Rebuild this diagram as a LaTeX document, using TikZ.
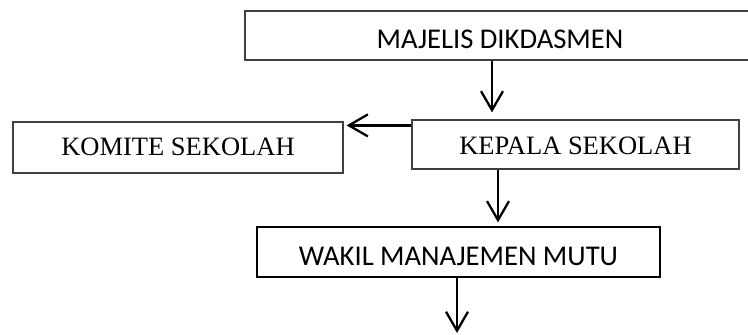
\documentclass[tikz,border=0pt]{standalone}
\usepackage{fontspec}
\setmainfont{Liberation Serif}
\newfontfamily\calib{Carlito}
\usetikzlibrary{arrows.meta,calc}
\begin{document}
\begin{tikzpicture}[x=1pt,y=-1pt,
  box/.style={draw=black!75,line width=1.2pt,inner sep=0pt,rectangle},
  sansbox/.style={box,font=\calib\fontsize{28.6}{32}\selectfont},
  serifbox/.style={box,font=\fontsize{26.5}{30}\selectfont},
  arr/.style={line width=2.3pt,-{Straight Barb[length=19pt,width=22pt,line width=2.3pt]}}]
\useasboundingbox (0,0) rectangle (748,335);
\node[sansbox,minimum width=510pt,text height=37pt,text depth=12pt] (maj) at (500,35.5) {MAJELIS DIKDASMEN};
\node[serifbox,minimum width=330pt,text height=33pt,text depth=18pt] (kom) at (178,147.5) {KOMITE SEKOLAH};
\node[serifbox,minimum width=327pt,text height=34pt,text depth=15pt] (kep) at (575.5,144.5) {KEPALA SEKOLAH};
\node[sansbox,draw=black,minimum width=403pt,text height=38pt,text depth=12pt] (wak) at (458.5,252) {WAKIL MANAJEMEN MUTU};
\coordinate (end) at (457,333);
\draw[arr,shorten >=7pt] (maj.south -| 492,0) -- (kep.north -| 492,0);
\draw[arr,shorten >=3pt] ([yshift=-6pt]kep.north west) -- ([yshift=-6pt]kep.north west -| kom.east);
\draw[arr,shorten >=4pt] (kep.south -| 498,0) -- (wak.north -| 498,0);
\draw[arr] (wak.south -| end) -- (end);
\end{tikzpicture}
\end{document}
